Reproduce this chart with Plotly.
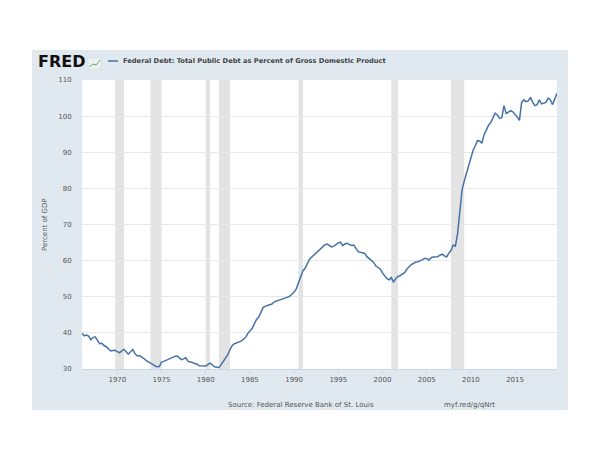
import plotly.graph_objects as go
import pandas as pd

# Quarterly observations starting 1966 Q1 (percent of GDP)
start_quarter = "1966-01-01"
debt_pct = [
    39.9, 39.2, 39.4, 39.1,   # 1966
    38.1, 38.7, 38.9, 37.8,   # 1967
    37.0, 37.1, 36.5, 36.2,   # 1968
    35.6, 35.0, 35.1, 35.2,   # 1969
    34.8, 34.5, 35.0, 35.4,   # 1970
    34.8, 34.1, 34.8, 35.4,   # 1971
    34.2, 33.6, 33.7, 33.4,   # 1972
    32.9, 32.4, 32.1, 31.7,   # 1973
    31.3, 30.9, 30.6, 30.7,   # 1974
    31.9, 32.1, 32.4, 32.6,   # 1975
    32.9, 33.2, 33.5, 33.6,   # 1976
    33.2, 32.6, 32.8, 33.1,   # 1977
    32.1, 32.0, 31.8, 31.5,   # 1978
    31.4, 30.9, 30.9, 30.8,   # 1979
    30.8, 31.3, 31.6, 31.1,   # 1980
    30.6, 30.5, 30.4, 31.2,   # 1981
    32.2, 32.9, 34.0, 35.4,   # 1982
    36.5, 37.0, 37.2, 37.4,   # 1983
    37.7, 38.2, 38.7, 39.8,   # 1984
    40.5, 41.2, 42.5, 43.7,   # 1985
    44.4, 45.5, 47.0, 47.4,   # 1986
    47.6, 47.8, 48.0, 48.6,   # 1987
    48.8, 49.0, 49.2, 49.5,   # 1988
    49.6, 49.8, 50.1, 50.7,   # 1989
    51.3, 52.2, 53.7, 55.5,   # 1990
    57.2, 57.9, 59.2, 60.4,   # 1991
    61.0, 61.6, 62.0, 62.6,   # 1992
    63.3, 63.9, 64.4, 64.6,   # 1993
    64.2, 63.8, 64.0, 64.5,   # 1994
    64.9, 65.1, 64.2, 64.6,   # 1995
    64.8, 64.5, 64.2, 64.3,   # 1996
    63.5, 62.5, 62.3, 62.2,   # 1997
    62.0, 61.1, 60.5, 60.0,   # 1998
    59.5, 58.5, 58.2, 57.7,   # 1999
    56.6, 55.6, 55.0, 54.7,   # 2000
    55.3, 54.0, 55.0, 55.6,   # 2001
    55.8, 56.3, 56.6, 57.6,   # 2002
    58.2, 58.9, 59.2, 59.6,   # 2003
    59.7, 59.9, 60.2, 60.6,   # 2004
    60.6, 60.1, 60.8, 61.0,   # 2005
    61.0, 61.1, 61.5, 61.8,   # 2006
    61.3, 61.0, 62.0, 62.8,   # 2007
    64.3, 64.0, 67.5, 73.5,   # 2008
    79.5, 82.0, 84.3, 86.0,   # 2009
    88.5, 90.5, 91.8, 93.2,   # 2010
    93.1, 92.5, 94.8, 96.2,   # 2011
    97.5, 98.2, 99.5, 100.8,  # 2012
    100.3, 99.4, 99.5, 102.9, # 2013
    100.7, 101.0, 101.5, 101.2,  # 2014
    100.6, 99.8, 98.8, 103.8, # 2015
    104.5, 104.0, 104.2, 105.2,  # 2016
    103.8, 102.9, 103.2, 104.5,  # 2017
    103.4, 103.6, 103.8, 105.0,  # 2018
    104.5, 103.2, 105.0, 106.3,  # 2019
]

# NBER recessions (quarterly shading)
rec_start = ["1969-10-01", "1973-10-01", "1980-01-01", "1981-07-01",
             "1990-07-01", "2001-01-01", "2007-10-01"]
rec_end = ["1970-10-01", "1975-01-01", "1980-07-01", "1982-10-01",
           "1991-01-01", "2001-10-01", "2009-04-01"]

x_tick_years = [1970, 1975, 1980, 1985, 1990, 1995, 2000, 2005, 2010, 2015]
y_ticks = [30, 40, 50, 60, 70, 80, 90, 100, 110]

series_title = "Federal Debt: Total Public Debt as Percent of Gross Domestic Product"
y_title = "Percent of GDP"
source_text = "Source: Federal Reserve Bank of St. Louis"
link_text = "myf.red/g/qNrt"

dates = pd.date_range(start_quarter, periods=len(debt_pct), freq="QS")

W, H = 600, 450
OFF = 8  # page offset of the figure inside the screenshot
# plot area in screenshot pixels: x 82..557, y 80..369
L, R, T, B = 82 - OFF, W - (557 - OFF), 80 - OFF, H - (369 - OFF)
pw, ph = W - L - R, H - T - B


def px(xp):
    return (xp - OFF - L) / pw


def py(yp):
    return (H - B - (yp - OFF)) / ph


FONT = "DejaVu Sans"
LINE = "#4572a7"
BOX = "#e1e9f0"

fig = go.Figure()
fig.add_trace(go.Scatter(x=dates, y=debt_pct, mode="lines",
                         line=dict(color=LINE, width=1.5), hoverinfo="skip",
                         showlegend=False))

shapes = [
    dict(type="rect", xref="paper", yref="paper", layer="below",
         x0=px(32), x1=px(568), y0=py(410), y1=py(50),
         fillcolor=BOX, line=dict(width=0)),
    dict(type="rect", xref="paper", yref="paper", layer="below",
         x0=0, x1=1, y0=0, y1=1, fillcolor="white", line=dict(width=0)),
    # legend swatch
    dict(type="line", xref="paper", yref="paper", layer="above",
         x0=px(108), x1=px(118), y0=py(61), y1=py(61),
         line=dict(color=LINE, width=1.5)),
    # small FRED icon
    dict(type="rect", xref="paper", yref="paper", layer="above",
         x0=px(88), x1=px(101), y0=py(69), y1=py(58),
         fillcolor="#eef2f5", line=dict(color="#c8d2dc", width=0.5)),
    dict(type="path", xref="paper", yref="paper", layer="above",
         path="M {} {} L {} {} L {} {} L {} {}".format(
             px(89), py(67), px(93), py(64), px(96), py(65), px(100), py(60)),
         line=dict(color="#6aa84f", width=1)),
]
for s, e in zip(rec_start, rec_end):
    shapes.append(dict(type="rect", xref="x", yref="y", layer="below",
                       x0=s, x1=e, y0=30, y1=110,
                       fillcolor="#e3e3e3", line=dict(width=0)))

annotations = [
    dict(text="<b>FRED</b>", xref="paper", yref="paper", x=px(36), y=py(62),
         xanchor="left", yanchor="middle", showarrow=False,
         font=dict(family=FONT, size=16, color="#111111")),
    dict(text="<b>" + series_title + "</b>", xref="paper", yref="paper",
         x=px(121), y=py(61), xanchor="left", yanchor="middle", showarrow=False,
         font=dict(family=FONT, size=6.7, color="#444444")),
    dict(text=source_text, xref="paper", yref="paper", x=px(300.5), y=py(405),
         xanchor="center", yanchor="middle", showarrow=False,
         font=dict(family=FONT, size=7, color="#555555")),
    dict(text=link_text, xref="paper", yref="paper", x=px(469), y=py(405),
         xanchor="center", yanchor="middle", showarrow=False,
         font=dict(family=FONT, size=7, color="#555555")),
    dict(text=y_title, xref="paper", yref="paper", x=px(45), y=py(225),
         xanchor="center", yanchor="middle", showarrow=False, textangle=-90,
         font=dict(family=FONT, size=7, color="#555555")),
]

fig.update_layout(
    width=W, height=H,
    margin=dict(l=L, r=R, t=T, b=B, pad=0),
    paper_bgcolor="white", plot_bgcolor="rgba(0,0,0,0)",
    shapes=shapes, annotations=annotations, showlegend=False,
    font=dict(family=FONT, size=7, color="#555555"),
)
fig.update_xaxes(
    type="date", range=[dates[0], dates[-1]],
    tickvals=[pd.Timestamp(f"{y}-01-01") for y in x_tick_years],
    ticktext=[str(y) for y in x_tick_years],
    showgrid=False, zeroline=False,
    showline=True, linecolor="#ccd6eb", linewidth=1,
    ticks="outside", ticklen=4, tickcolor="#ccd6eb",
    tickfont=dict(family=FONT, size=7, color="#555555"),
)
fig.update_yaxes(
    range=[30, 110], tickvals=y_ticks,
    showgrid=True, gridcolor="#e8e8e8", gridwidth=1, zeroline=False,
    showline=False, ticks="outside", ticklen=8, tickcolor="rgba(0,0,0,0)",
    tickfont=dict(family=FONT, size=7, color="#555555"),
)

fig.write_html("out.html")
